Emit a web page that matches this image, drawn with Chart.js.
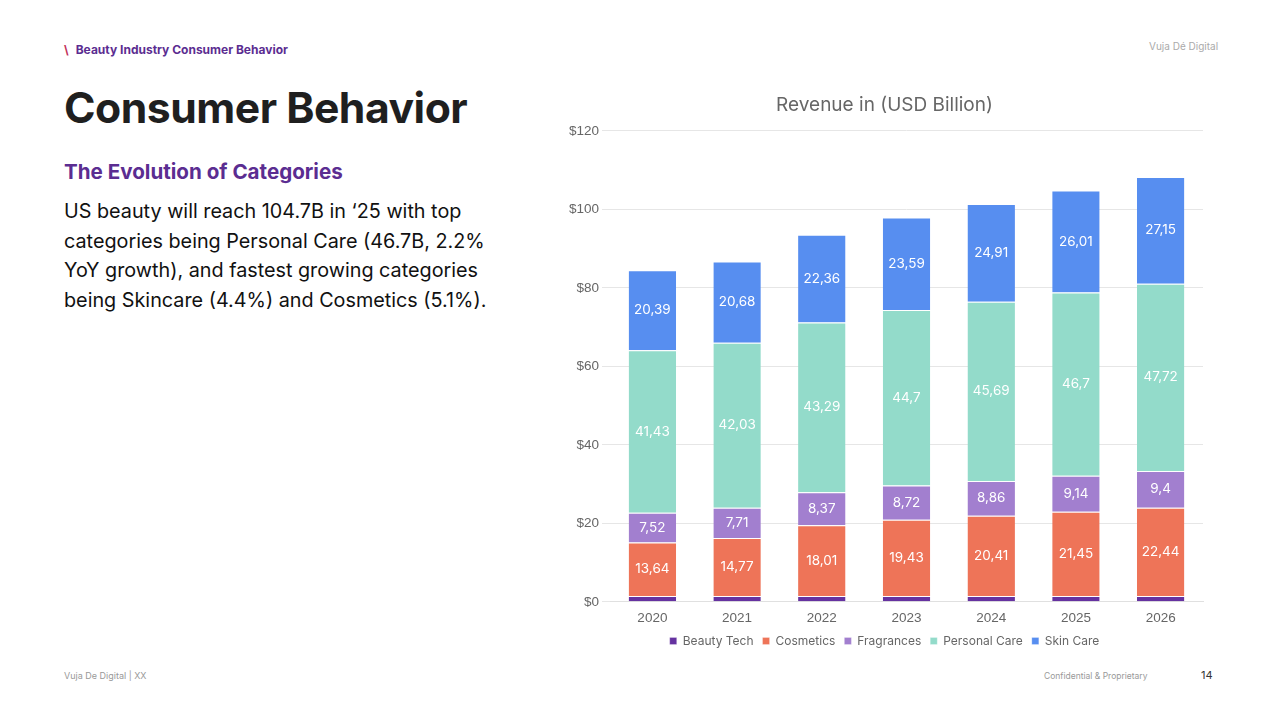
<!DOCTYPE html>
<html>
<head>
<meta charset="utf-8">
<script src="https://cdn.jsdelivr.net/npm/chart.js@4"></script>
<style>
  body { margin: 0; width: 1280px; height: 720px; background: #fff; font-family: Inter, "Liberation Sans", sans-serif; position: relative; overflow: hidden; }
  .eyebrow { position: absolute; left: 64px; top: 42px; font-size: 12px; font-weight: 700; color: #5b2d91; }
  .eyebrow span { color: #c2305a; margin-right: 7px; font-weight: 700; }
  .brand { position: absolute; left: 1149px; top: 40px; font-size: 10px; color: #aaa; }
  h1 { position: absolute; left: 64px; top: 82px; margin: 0; font-size: 42.7px; font-weight: 700; color: #1f1f1f; letter-spacing: -0.5px; }
  h2 { position: absolute; left: 64px; top: 159px; margin: 0; font-size: 20.6px; font-weight: 700; color: #5b2d91; }
  .body { position: absolute; left: 64px; top: 197px; width: 425px; font-size: 19.8px; line-height: 29.5px; color: #111; }
  .foot-l { position: absolute; left: 64px; top: 670px; font-size: 9px; color: #999; }
  .foot-r { position: absolute; left: 1044px; top: 671px; font-size: 8.5px; color: #999; }
  .page { position: absolute; left: 1201px; top: 668px; font-size: 11px; color: #333; }
  .chart-box { position: absolute; left: 566px; top: 90px; width: 653px; height: 567px; }
</style>
</head>
<body>
<div class="eyebrow"><span>\</span>Beauty Industry Consumer Behavior</div>
<div class="brand">Vuja Dé Digital</div>
<h1>Consumer Behavior</h1>
<h2>The Evolution of Categories</h2>
<div class="body">US beauty will reach 104.7B in ‘25 with top categories being Personal Care (46.7B, 2.2% YoY growth), and fastest growing categories being Skincare (4.4%) and Cosmetics (5.1%).</div>
<div class="foot-l">Vuja De Digital | XX</div>
<div class="foot-r">Confidential &amp; Proprietary</div>
<div class="page">14</div>
<div class="chart-box"><canvas id="revenueChart"></canvas></div>

<script>
const years = ['2020', '2021', '2022', '2023', '2024', '2025', '2026'];
const beautyTech = [1.5, 1.5, 1.5, 1.5, 1.5, 1.5, 1.5];
const cosmetics = [13.64, 14.77, 18.01, 19.43, 20.41, 21.45, 22.44];
const fragrances = [7.52, 7.71, 8.37, 8.72, 8.86, 9.14, 9.4];
const personalCare = [41.43, 42.03, 43.29, 44.7, 45.69, 46.7, 47.72];
const skinCare = [20.39, 20.68, 22.36, 23.59, 24.91, 26.01, 27.15];

// white value labels in the middle of each segment (no label for Beauty Tech)
const segmentLabels = {
  id: 'segmentLabels',
  afterDatasetsDraw(chart) {
    const ctx = chart.ctx;
    ctx.save();
    ctx.font = '13.5px Inter, "Liberation Sans", sans-serif';
    ctx.fillStyle = '#fff';
    ctx.textAlign = 'center';
    ctx.textBaseline = 'middle';
    chart.data.datasets.forEach((ds, i) => {
      if (ds.label === 'Beauty Tech') return;
      chart.getDatasetMeta(i).data.forEach((bar, j) => {
        const txt = String(ds.data[j]).replace('.', ',');
        ctx.fillText(txt, bar.x, (bar.y + bar.base) / 2);
      });
    });
    ctx.restore();
  }
};

function ds(label, data, color) {
  return {
    label: label,
    data: data,
    backgroundColor: color,
    borderColor: '#fff',
    borderWidth: { top: 1, bottom: 0, left: 0, right: 0 },
    barPercentage: 0.56,
    categoryPercentage: 1.0,
  };
}

new Chart(document.getElementById('revenueChart'), {
  type: 'bar',
  data: {
    labels: years,
    datasets: [
      ds('Beauty Tech', beautyTech, '#6532a0'),
      ds('Cosmetics', cosmetics, '#ee7458'),
      ds('Fragrances', fragrances, '#a27fcf'),
      ds('Personal Care', personalCare, '#93dbca'),
      ds('Skin Care', skinCare, '#578ef0'),
    ],
  },
  options: {
    responsive: true,
    maintainAspectRatio: false,
    animation: false,
    layout: { padding: { left: 0, right: 16, top: 0, bottom: 0 } },
    plugins: {
      title: {
        display: true,
        text: 'Revenue in (USD Billion)',
        color: '#666',
        font: { family: 'Inter, "Liberation Sans", sans-serif', size: 19, weight: 'normal' },
        padding: { top: 4, bottom: 14 },
      },
      legend: {
        position: 'bottom',
        labels: {
          boxWidth: 7,
          boxHeight: 7,
          padding: 9,
          color: '#666',
          font: { family: 'Inter, "Liberation Sans", sans-serif', size: 12 },
        },
      },
      tooltip: { enabled: false },
    },
    scales: {
      x: {
        stacked: true,
        grid: { display: false },
        border: { color: '#e0e0e0' },
        ticks: { color: '#666', font: { size: 13.5 }, padding: 0 },
      },
      y: {
        stacked: true,
        min: 0,
        max: 120,
        ticks: {
          stepSize: 20,
          color: '#666',
          font: { size: 13.5 },
          padding: 3,
          callback: v => '$' + v,
        },
        grid: { color: '#e6e6e6' },
        border: { display: false },
      },
    },
  },
  plugins: [segmentLabels],
});
</script>
</body>
</html>
